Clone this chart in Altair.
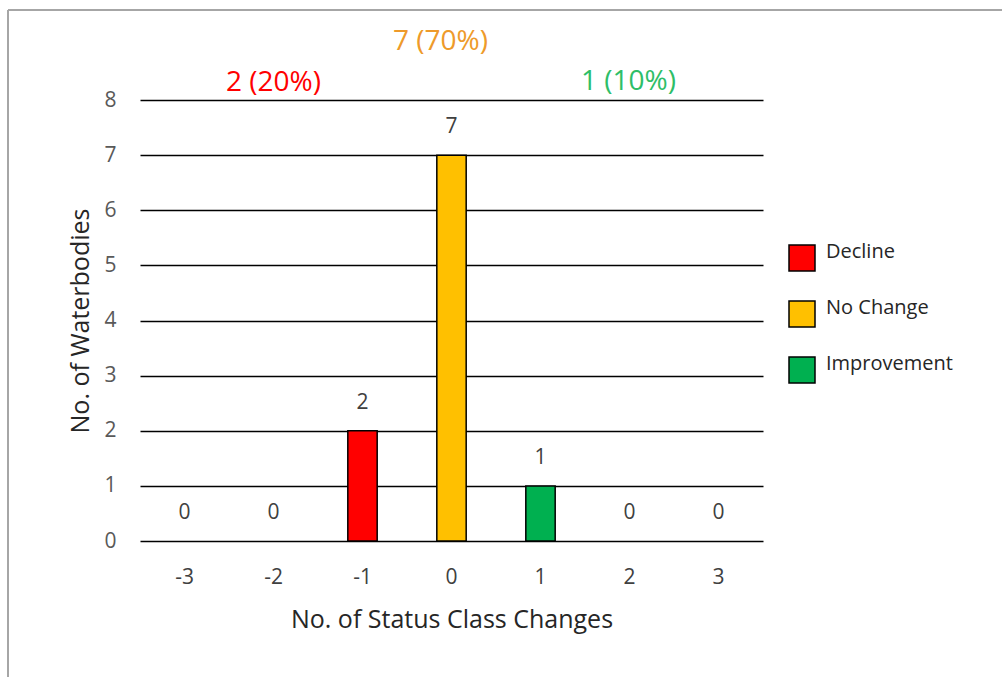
import altair as alt
import pandas as pd

# Number of status class changes per waterbody and how many waterbodies fall in each
changes = [-3, -2, -1, 0, 1, 2, 3]
counts = [0, 0, 2, 7, 1, 0, 0]

groups = ["Decline", "No Change", "Improvement"]
group_colors = ["#FF0000", "#FFC000", "#00B050"]
note_colors = ["#FF0000", "#EE9A2A", "#2EBE68"]
# column each group's summary note sits over, and its height on the count axis
note_columns = ["-2", "0", "2"]
note_levels = [8.30, 9.06, 8.32]
note_shift = [0, -11, -1]

FONT = "Open Sans"


def group_of(c):
    if c < 0:
        return "Decline"
    if c == 0:
        return "No Change"
    return "Improvement"


labels = [str(c) for c in changes]
df = pd.DataFrame({
    "change": labels,
    "count": counts,
    "group": [group_of(c) for c in changes],
})

total = sum(counts)
group_totals = [sum(n for c, n in zip(changes, counts) if group_of(c) == g) for g in groups]
notes = pd.DataFrame({
    "group": groups,
    "change": note_columns,
    "level": note_levels,
    "shift": note_shift,
    "text": [f"{n} ({round(100 * n / total)}%)" for n in group_totals],
})

x_enc = alt.X(
    "change:N",
    sort=labels,
    scale=alt.Scale(paddingInner=0.67, paddingOuter=0.335),
    axis=alt.Axis(
        title="No. of Status Class Changes",
        labelAngle=0,
        domain=False,
        ticks=False,
        labelPadding=25,
        labelFont=FONT,
        labelFontSize=21,
        labelColor="#404040",
        titleFont=FONT,
        titleFontSize=25,
        titleFontWeight="normal",
        titleColor="#262626",
        titlePadding=20,
    ),
)

y_enc = alt.Y(
    "count:Q",
    scale=alt.Scale(domain=[0, 8], nice=False),
    axis=alt.Axis(
        title="No. of Waterbodies",
        values=list(range(0, 9)),
        format="d",
        domain=False,
        ticks=False,
        grid=True,
        gridColor="#000000",
        gridWidth=1.6,
        labelPadding=24,
        labelFont=FONT,
        labelFontSize=21,
        labelColor="#595959",
        titleFont=FONT,
        titleFontSize=25,
        titleFontWeight="normal",
        titleColor="#262626",
        titlePadding=10,
    ),
)

# bars for the non-empty columns; empty ones only carry their "0" label
bars = alt.Chart(df).transform_filter(alt.datum.count > 0).mark_bar(
    stroke="#000000", strokeWidth=1.5
).encode(
    x=x_enc,
    y=y_enc,
    color=alt.Color(
        "group:N",
        scale=alt.Scale(domain=groups, range=group_colors),
        legend=alt.Legend(
            title=None,
            orient="none",
            legendX=648,
            legendY=144,
            symbolType="square",
            symbolSize=676,
            symbolStrokeColor="#000000",
            symbolStrokeWidth=1.5,
            symbolOpacity=1,
            rowPadding=24,
            labelFont=FONT,
            labelFontSize=20,
            labelColor="#262626",
            labelBaseline="alphabetic",
            labelOffset=10,
        ),
    ),
)

values = alt.Chart(df).mark_text(
    font=FONT, fontSize=21, color="#404040", dy=-28
).encode(
    x=alt.X("change:N", sort=labels),
    y="count:Q",
    text="count:Q",
)

# one text layer per group note so each can be nudged sideways
summary_layers = []
for i, g in enumerate(groups):
    summary_layers.append(
        alt.Chart(notes[notes["group"] == g]).mark_text(
            font=FONT, fontSize=28, color=note_colors[i], dx=note_shift[i]
        ).encode(
            x=alt.X("change:N", sort=labels),
            y="level:Q",
            text="text:N",
        )
    )

# sheet frame around the chart object
frame_top = alt.Chart(df).mark_rule(color="#A6A6A6", strokeWidth=2).encode(
    x=alt.value(-132), x2=alt.value(900), y=alt.value(-90)
)
frame_left = alt.Chart(df).mark_rule(color="#A6A6A6", strokeWidth=2).encode(
    x=alt.value(-132), y=alt.value(-90), y2=alt.value(600)
)

chart = alt.layer(bars, values, *summary_layers, frame_top, frame_left).properties(
    width=623,
    height=441,
    background="#FFFFFF",
    autosize=alt.AutoSizeParams(type="none"),
    padding={"left": 140, "top": 100, "right": 239, "bottom": 136},
).configure_view(stroke=None)

chart.save("out.html", embed_options={"renderer": "svg", "actions": False})
